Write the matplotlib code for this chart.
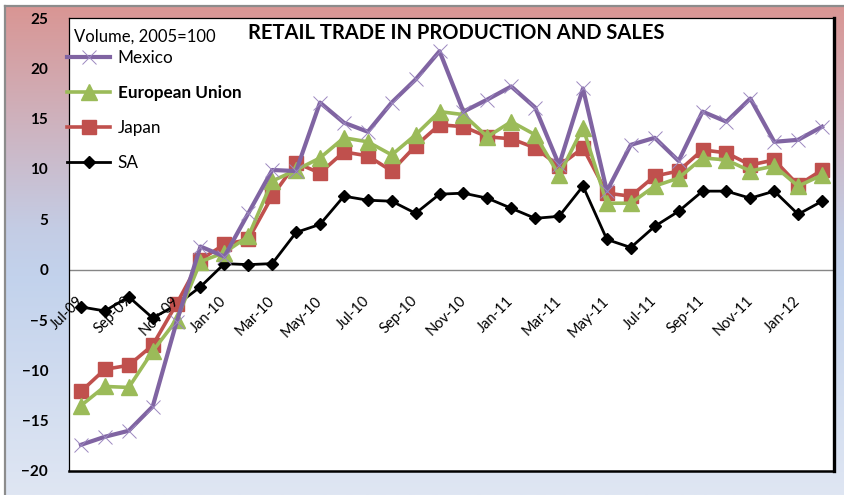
import numpy as np
import matplotlib.pyplot as plt
from matplotlib.colors import LinearSegmentedColormap
from matplotlib.lines import Line2D
from matplotlib.transforms import ScaledTranslation

plt.rcParams['font.family'] = ['Lato', 'DejaVu Sans']

months = ['Jul-09', 'Aug-09', 'Sep-09', 'Oct-09', 'Nov-09', 'Dec-09',
          'Jan-10', 'Feb-10', 'Mar-10', 'Apr-10', 'May-10', 'Jun-10',
          'Jul-10', 'Aug-10', 'Sep-10', 'Oct-10', 'Nov-10', 'Dec-10',
          'Jan-11', 'Feb-11', 'Mar-11', 'Apr-11', 'May-11', 'Jun-11',
          'Jul-11', 'Aug-11', 'Sep-11', 'Oct-11', 'Nov-11', 'Dec-11',
          'Jan-12', 'Feb-12']

mexico = [-17.4, -16.6, -16.0, -13.6, -5.2, 2.3,
          1.3, 5.6, 9.9, 9.8, 16.6, 14.6, 13.7, 16.6, 18.9, 21.7, 15.7, 16.9,
          18.2, 16.1, 10.4, 18.0, 7.8, 12.4, 13.1, 10.8, 15.7, 14.7, 17.0, 12.7,
          12.9, 14.2]
eu = [-13.5, -11.6, -11.7, -8.1, -5.0, 0.8,
      1.7, 3.3, 8.8, 9.9, 11.1, 13.1, 12.7, 11.4, 13.4, 15.7, 15.4, 13.2,
      14.7, 13.4, 9.4, 14.1, 6.6, 6.6, 8.3, 9.1, 11.1, 10.9, 9.8, 10.3,
      8.3, 9.4]
japan = [-12.1, -9.9, -9.5, -7.5, -3.4, 1.0,
         2.5, 3.0, 7.3, 10.6, 9.6, 11.7, 11.3, 9.8, 12.3, 14.4, 14.2, 13.2,
         13.0, 12.1, 10.3, 12.1, 7.6, 7.3, 9.3, 9.8, 11.9, 11.6, 10.4, 10.9,
         8.4, 9.9]
sa = [-3.7, -4.1, -2.7, -4.8, -3.5, -1.7,
      0.6, 0.5, 0.6, 3.7, 4.5, 7.3, 6.9, 6.8, 5.6, 7.5, 7.6, 7.1,
      6.1, 5.1, 5.3, 8.3, 3.0, 2.2, 4.3, 5.8, 7.8, 7.8, 7.1, 7.8,
      5.5, 6.8]

x = np.arange(len(months))

W, H = 845, 495
fig = plt.figure(figsize=(W / 100, H / 100), dpi=100, facecolor='white')

# gradient background of the chart area
bg = fig.add_axes([6 / W, 0, 1 - 6 / W, 1 - 7 / H], zorder=0)
grad_cmap = LinearSegmentedColormap.from_list(
    'bg', [(0.0, '#D99694'), (0.45, '#C4CCE4'), (0.55, '#C2D2EC'), (1.0, '#DFE6F3')])
bg.imshow(np.linspace(0, 1, 256).reshape(-1, 1), aspect='auto', cmap=grad_cmap,
          extent=[0, 1, 0, 1])
bg.set_axis_off()
fig.add_artist(Line2D([5 / W, 5 / W], [0, 1 - 6 / H], color='#8C8C8C', lw=1.6))
fig.add_artist(Line2D([5 / W, 1], [1 - 6 / H, 1 - 6 / H], color='#8C8C8C', lw=1.6))

ax = fig.add_axes([69 / W, 1 - 471 / H, 765 / W, 453 / H], zorder=1)
ax.set_facecolor('white')

ax.plot(x, sa, color='black', lw=2.0, marker='D', ms=6, zorder=3, label='SA')
ax.plot(x, japan, color='#C0504D', lw=2.6, marker='s', ms=10.5, zorder=4, label='Japan')
ax.plot(x, eu, color='#9BBB59', lw=2.6, marker='^', ms=11, zorder=5, label='European Union')
ax.plot(x, mexico, color='#8064A2', lw=3.0, marker='x', ms=10, mew=0.7,
        mec='#9C88C0', zorder=6, label='Mexico')

ax.axhline(0, color='#868686', lw=1.0, zorder=2)

ax.set_xlim(-0.5, len(months) - 0.5)
ax.set_ylim(-20, 25)
ax.set_yticks(np.arange(-20, 26, 5))
ax.tick_params(axis='y', length=0, pad=15, labelsize=11)
for t in ax.get_yticklabels():
    t.set_fontweight('bold')
ax.set_xticks([])

for s in ['top', 'left']:
    ax.spines[s].set_linewidth(0.9)
ax.spines['right'].set_linewidth(2.4)
ax.spines['bottom'].set_linewidth(1.8)

# category labels sit on the zero line
off = ScaledTranslation(0, -29 / 100, fig.dpi_scale_trans)
for i in x[::2]:
    ax.text(i, 0, months[i], rotation=45, ha='right', va='center',
            rotation_mode='anchor', fontsize=10.5, transform=ax.transData + off,
            zorder=7)

ax.text(0.506, 0.9675, 'RETAIL TRADE IN PRODUCTION AND SALES', transform=ax.transAxes,
        ha='center', va='center', fontsize=14.5, fontweight='bold')
ax.text(0.0065, 0.9587, 'Volume, 2005=100', transform=ax.transAxes,
        ha='left', va='center', fontsize=12)

handles, labels = ax.get_legend_handles_labels()
order = [3, 2, 1, 0]
leg = ax.legend([handles[k] for k in order], [labels[k] for k in order],
                loc='upper left', bbox_to_anchor=(-0.002, 0.929), frameon=False,
                fontsize=12.3, borderpad=0, borderaxespad=0, handlelength=2.5,
                handletextpad=0.45, labelspacing=1.1)
leg.get_texts()[1].set_fontweight('bold')

fig.savefig('out.png', dpi=100, facecolor=fig.get_facecolor())
